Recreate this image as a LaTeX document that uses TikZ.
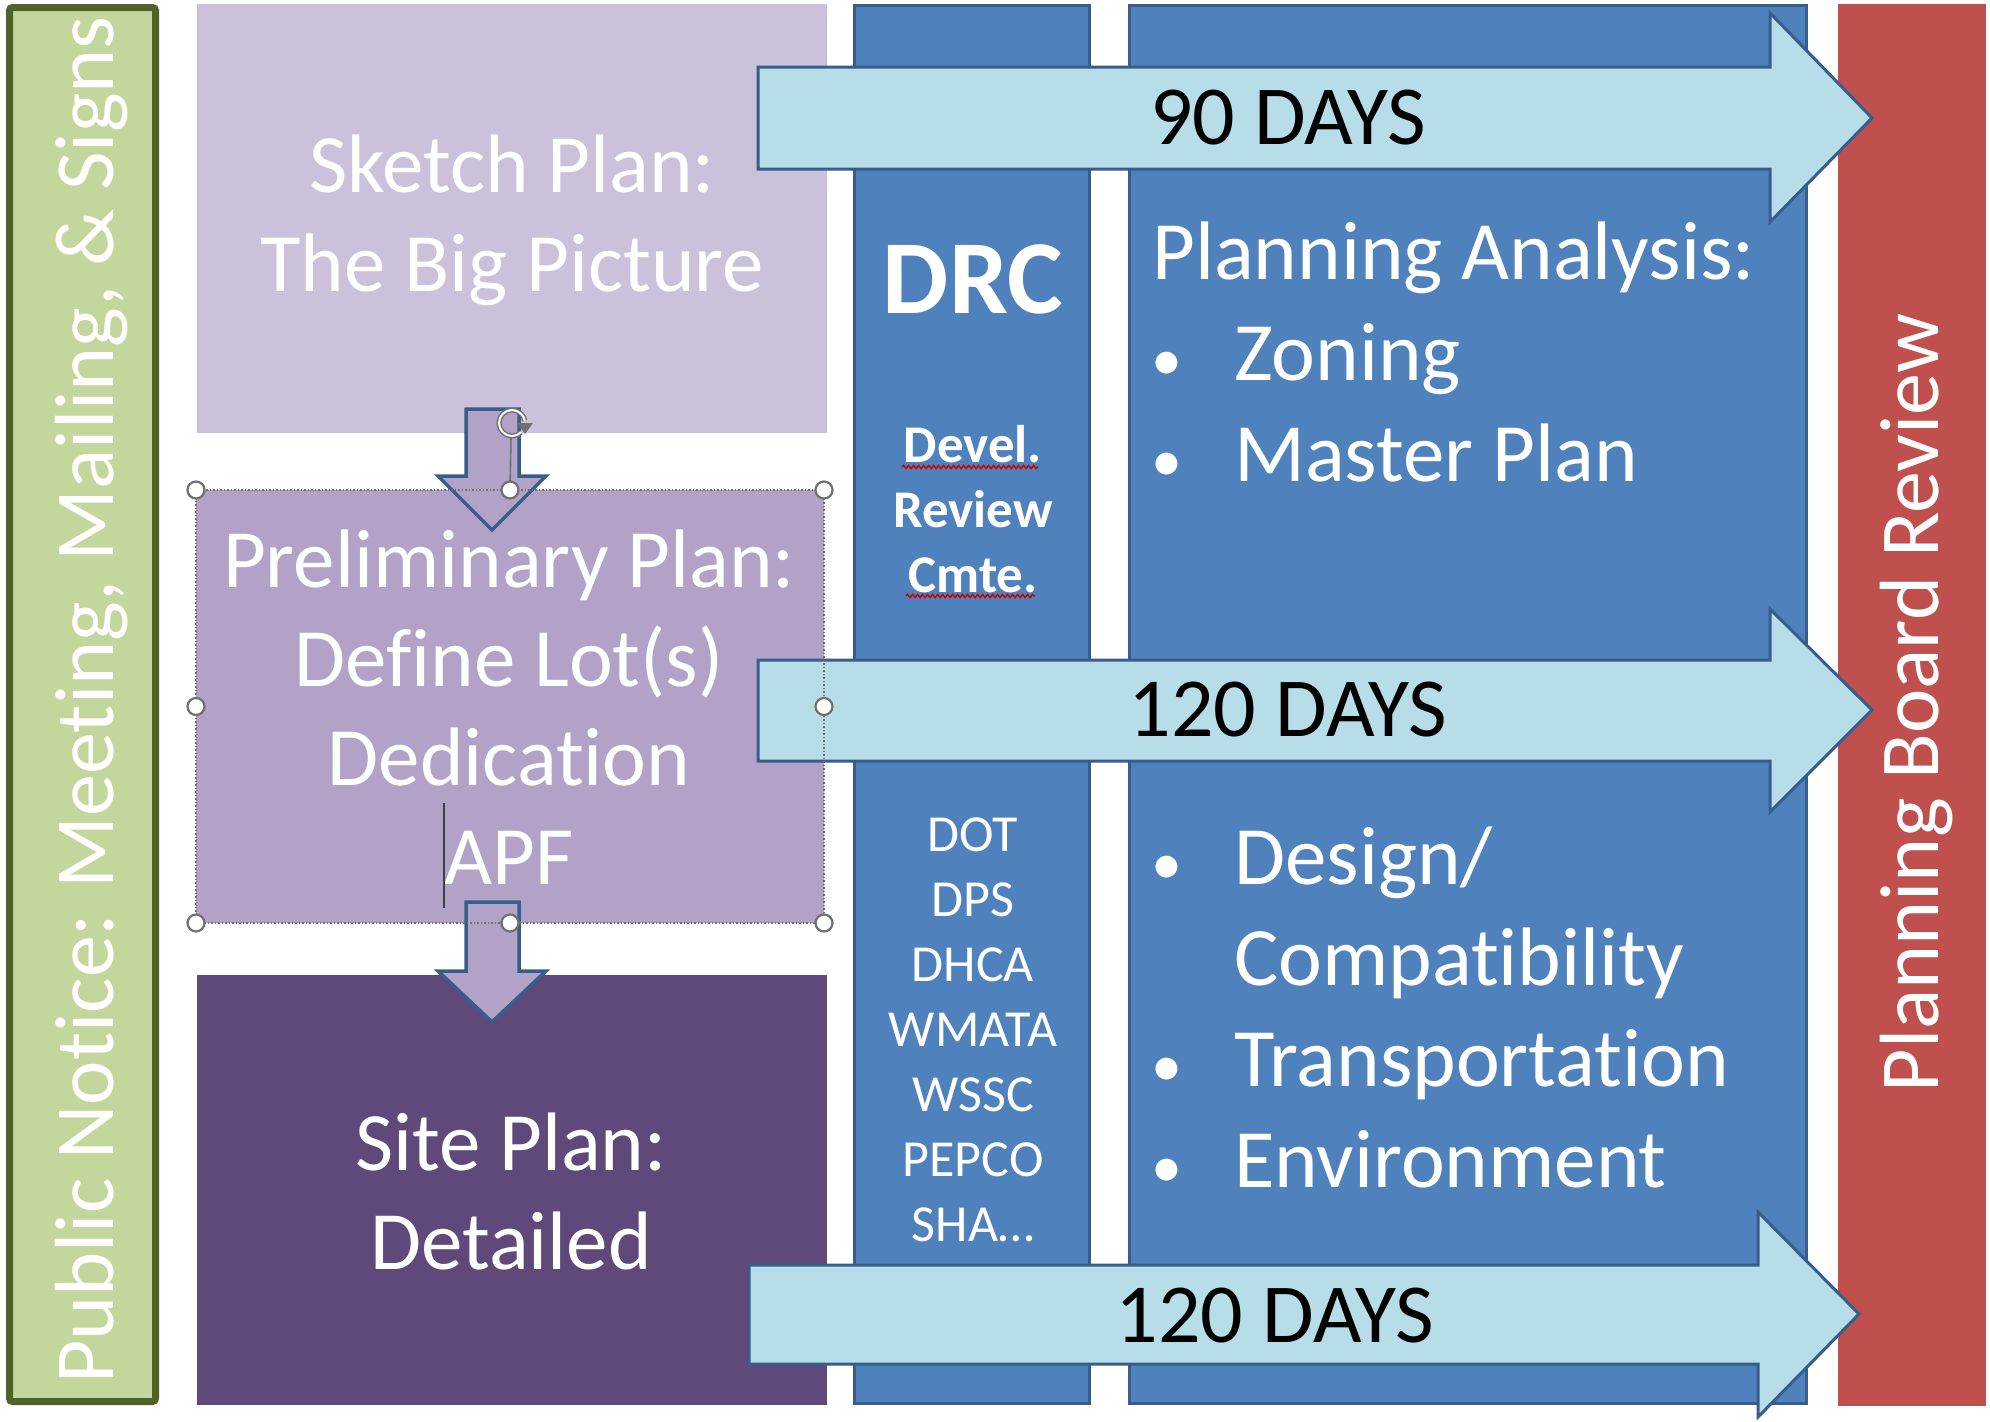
\documentclass[tikz,border=0pt]{standalone}
\usepackage{fontspec}
\setmainfont{Carlito}[RawFeature={-liga;-clig;-calt;-dlig}]
\usetikzlibrary{decorations.pathmorphing}

\definecolor{noticefill}{HTML}{C3D69B}
\definecolor{noticeedge}{HTML}{4F6228}
\definecolor{sketchfill}{HTML}{CCC1DA}
\definecolor{prelimfill}{HTML}{B2A2C7}
\definecolor{sitefill}{HTML}{5F497A}
\definecolor{colfill}{HTML}{4F81BD}
\definecolor{coledge}{HTML}{385D8A}
\definecolor{boardfill}{HTML}{C0504D}
\definecolor{dayfill}{HTML}{B7DEE8}
\definecolor{handleedge}{HTML}{707070}

% small bullet followed by the hanging indent of a list line
\newcommand{\listbullet}{\makebox[82pt][l]{\makebox[30pt][c]{\fontsize{62}{62}\selectfont •}}}
\newcommand{\listindent}{\makebox[82pt][l]{}}

\begin{document}
\begin{tikzpicture}[x=1pt,y=-1pt,
  panel/.style={inner sep=0pt, outer sep=0pt, draw=none},
  column/.style={inner sep=0pt, outer sep=0pt, fill=colfill, draw=coledge, line width=3pt},
  dayarrow/.style={fill=dayfill, draw=coledge, line width=3pt, line join=miter},
  downarrow/.style={fill=prelimfill, draw=coledge, line width=3.5pt, line join=miter},
  bigtext/.style={inner sep=0pt, text=white, align=center, font=\fontsize{83}{99}\selectfont},
  daytext/.style={inner sep=0pt, text=black, font=\fontsize{84}{100}\selectfont},
  listtext/.style={inner sep=0pt, text=white, align=left, anchor=west, font=\fontsize{83}{101}\selectfont},
  handle/.style={circle, inner sep=0pt, minimum size=17pt, fill=white, draw=handleedge, line width=2.2pt},
  spell/.style={draw=red!80!black, line width=1.4pt, decorate,
    decoration={snake, amplitude=1.6pt, segment length=5pt}}
]
\useasboundingbox (0,0) rectangle (1990,1422);
\fill[white] (0,0) rectangle (1990,1422);

% left band: public notice
\node[panel, fill=noticefill, draw=noticeedge, line width=7pt, rounded corners=3pt,
      minimum width=146pt, minimum height=1394pt] (notice) at (82.5,704.5) {};

% the three plan stages
\node[panel, fill=sketchfill, minimum width=630pt, minimum height=429pt] (sketch) at (512,218.5) {};
\node[panel, fill=prelimfill, minimum width=628pt, minimum height=433pt] (prelim) at (510,706.5) {};
\node[panel, fill=sitefill, minimum width=630pt, minimum height=430pt] (site) at (512,1190) {};

% review columns
\node[column, minimum width=235pt, minimum height=1398pt] (drc) at (972,704.5) {};
\node[column, minimum width=677pt, minimum height=1398pt] (analysis) at (1468,704.5) {};
\node[panel, fill=boardfill, minimum width=148pt, minimum height=1402pt] (board) at (1912,704.5) {};

% downward block arrows between stages
\draw[downarrow] (466,409) -- (519,409) -- (519,476) -- (546,476) -- (492,530)
  -- (438,476) -- (466,476) -- cycle;
\draw[downarrow] (466,902) -- (519,902) -- (519,971) -- (546,971) -- (492,1022)
  -- (438,971) -- (466,971) -- cycle;

% duration arrows
\draw[dayarrow] (758,67) -- (1770,67) -- (1770,13) -- (1872,118) -- (1770,222)
  -- (1770,169) -- (758,169) -- cycle;
\draw[dayarrow] (758,660) -- (1770,660) -- (1770,609) -- (1872,710) -- (1770,812)
  -- (1770,761) -- (758,761) -- cycle;
\draw[dayarrow] (749,1265) -- (1758,1265) -- (1758,1212) -- (1859,1314) -- (1758,1417)
  -- (1758,1364) -- (749,1364) -- cycle;

% labels
\node[rotate=90, inner sep=0pt, text=white, font=\fontsize{84}{100}\selectfont]
  (noticetext) at (92,700) {Public Notice: Meeting, Mailing, \& Signs};
\node[rotate=90, inner sep=0pt, text=white, font=\fontsize{84}{100}\selectfont]
  (boardtext) at (1917,703) {Planning Board Review};

\node[bigtext] (sketchtext) at (512,220) {Sketch Plan:\\The Big Picture};
\node[bigtext] (prelimtext) at (509,707) {Preliminary Plan:\\Define Lot(s)\\Dedication\\APF};
\node[bigtext] (sitetext) at (511,1191) {Site Plan:\\Detailed};

\node[inner sep=0pt, text=white, font=\fontsize{105}{110}\selectfont\bfseries] (drctext) at (973,279) {DRC};
\node[inner sep=0pt, text=white, align=center, font=\fontsize{53}{65}\selectfont\bfseries]
  (drcname) at (973,509) {Devel.\\Review\\Cmte.};
\node[inner sep=0pt, text=white, align=center, font=\fontsize{52}{65}\selectfont]
  (agencies) at (973,1030) {DOT\\DPS\\DHCA\\WMATA\\WSSC\\PEPCO\\SHA…};

\node[listtext] (topics) at (1152,352) {Planning Analysis:\\
  \listbullet Zoning\\
  \listbullet Master Plan};
\node[listtext] (reviews) at (1152,1007) {%
  \listbullet Design/\\
  \listindent Compatibility\\
  \listbullet Transportation\\
  \listbullet Environment};

\node[daytext] (days90) at (1288,118) {90 DAYS};
\node[daytext] (days120a) at (1288,710) {120 DAYS};
\node[daytext] (days120b) at (1275,1316) {120 DAYS};

% spell-check underlines
\draw[spell] (902,467) -- (1038,467);
\draw[spell] (906,596) -- (1035,596);

% text cursor
\draw[black!75, line width=1.6pt] (444,803) -- (444,908);

% selection frame with handles and rotation grip
\draw[handleedge, line width=1.5pt, dotted] (prelim.north west) rectangle (prelim.south east);
\draw[handleedge, line width=1.6pt] (prelim.north) -- (511,437);
\draw[handleedge, line width=5pt] (512,423) ++(45:13) arc[start angle=45, end angle=350, radius=13];
\draw[white, line width=2pt] (512,423) ++(45:13) arc[start angle=45, end angle=350, radius=13];
\fill[handleedge] (517,423) -- (533,423) -- (525,434) -- cycle;
\foreach \a in {north west,north,north east,west,east,south west,south,south east}
  \node[handle] at (prelim.\a) {};
\end{tikzpicture}
\end{document}
